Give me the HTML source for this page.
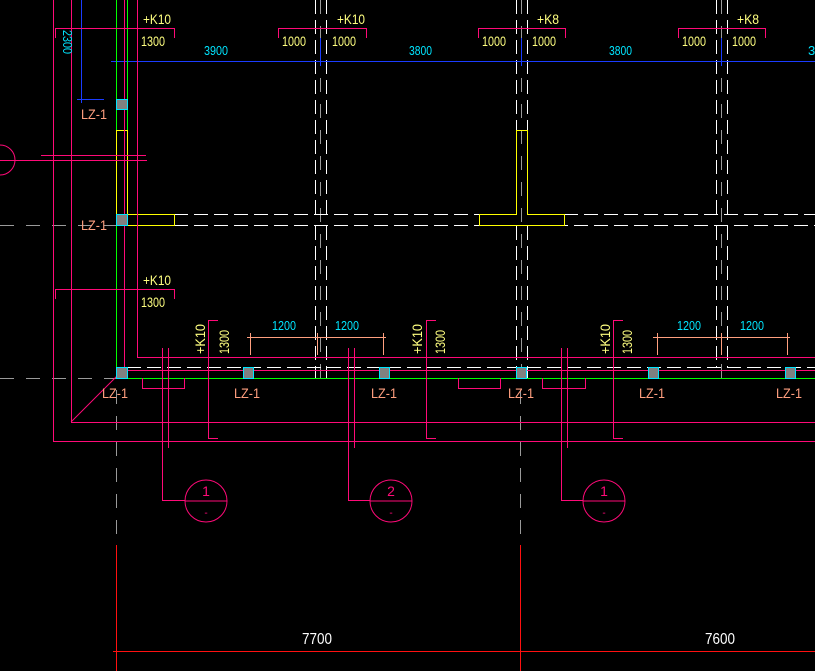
<!DOCTYPE html>
<html><head><meta charset="utf-8"><style>
html,body{margin:0;padding:0;background:#000;width:815px;height:671px;overflow:hidden}
svg{display:block}
text{font-family:"Liberation Sans",sans-serif}
</style></head><body>
<svg width="815" height="671" viewBox="0 0 815 671" xmlns="http://www.w3.org/2000/svg" shape-rendering="crispEdges">
<g fill="none" stroke-width="1">
<!-- grey centerlines -->
<g stroke="#9a9a9a" stroke-dasharray="14,12">
<line x1="0" y1="225.5" x2="116" y2="225.5"/>
<line x1="0" y1="378.5" x2="116" y2="378.5"/>
<line x1="320.5" y1="0" x2="320.5" y2="378"/>
<line x1="521.5" y1="0" x2="521.5" y2="378"/>
<line x1="721.5" y1="0" x2="721.5" y2="378"/>
<line x1="116.5" y1="390" x2="116.5" y2="545"/>
<line x1="520.5" y1="390" x2="520.5" y2="545"/>
</g>
<!-- white dashed beams -->
<g stroke="#fff" stroke-dasharray="14,6">
<line x1="315.5" y1="0" x2="315.5" y2="214"/><line x1="326.5" y1="0" x2="326.5" y2="214"/>
<line x1="315.5" y1="226" x2="315.5" y2="378"/><line x1="326.5" y1="226" x2="326.5" y2="378"/>
<line x1="516.5" y1="0" x2="516.5" y2="130"/><line x1="527.5" y1="0" x2="527.5" y2="130"/>
<line x1="516.5" y1="226" x2="516.5" y2="378"/><line x1="527.5" y1="226" x2="527.5" y2="378"/>
<line x1="716.5" y1="0" x2="716.5" y2="214"/><line x1="727.5" y1="0" x2="727.5" y2="214"/>
<line x1="716.5" y1="226" x2="716.5" y2="367"/><line x1="727.5" y1="226" x2="727.5" y2="367"/>
<line x1="174" y1="214.5" x2="479" y2="214.5"/><line x1="564" y1="214.5" x2="815" y2="214.5"/>
<line x1="174" y1="225.5" x2="815" y2="225.5"/>
<line x1="127" y1="367.5" x2="815" y2="367.5"/>
<line x1="127.5" y1="0" x2="127.5" y2="367" stroke-dasharray="none" stroke="#fff" opacity="0"/>
</g>
<line x1="127.5" y1="367" x2="127.5" y2="378" stroke="#fff"/>
<!-- blue dims -->
<g stroke="#1a3cff">
<line x1="111" y1="61.5" x2="815" y2="61.5"/>
<line x1="116.5" y1="38" x2="116.5" y2="66"/>
<line x1="320.5" y1="38" x2="320.5" y2="66"/>
<line x1="521.5" y1="38" x2="521.5" y2="66"/>
<line x1="721.5" y1="38" x2="721.5" y2="66"/>
<line x1="81.5" y1="0" x2="81.5" y2="103"/>
<line x1="77" y1="99.5" x2="104" y2="99.5"/>
</g>
<!-- green -->
<g stroke="#00ff00">
<line x1="116.5" y1="0" x2="116.5" y2="378"/>
<line x1="127.5" y1="0" x2="127.5" y2="130"/>
<line x1="116" y1="378.5" x2="815" y2="378.5"/>
</g>
<!-- yellow -->
<g stroke="#ffff00">
<rect x="116.5" y="130.5" width="11" height="95"/>
<rect x="127.5" y="214.5" width="47" height="11"/>
<path d="M516.5 214.5 V130.5 H527.5 V214.5 H564.5 V225.5 H479.5 V214.5 Z"/>
</g>
<!-- magenta -->
<g stroke="#ff0a78">
<line x1="53.5" y1="0" x2="53.5" y2="441"/>
<line x1="71.5" y1="0" x2="71.5" y2="422"/>
<line x1="124.5" y1="0" x2="124.5" y2="370"/>
<line x1="137.5" y1="0" x2="137.5" y2="357"/>
<line x1="53" y1="441.5" x2="815" y2="441.5"/>
<line x1="71" y1="422.5" x2="815" y2="422.5"/>
<line x1="137" y1="357.5" x2="815" y2="357.5"/>
<line x1="124" y1="370.5" x2="815" y2="370.5"/>
<line x1="71" y1="422" x2="125" y2="368" shape-rendering="auto"/>
<line x1="41" y1="155.5" x2="146" y2="155.5"/>
<line x1="0" y1="160.5" x2="147" y2="160.5"/>
<circle cx="0" cy="160" r="15" shape-rendering="auto"/>
<path d="M55.5 38 V28.5 H174.5 V38"/>
<path d="M278.5 38 V28.5 H366.5 V38"/>
<path d="M478.5 38 V28.5 H565.5 V38"/>
<path d="M678.5 38 V28.5 H765.5 V38"/>
<path d="M55.5 299 V289.5 H174.5 V299"/>
<path d="M218 320.5 H208.5 V438.5 H218"/>
<path d="M436 320.5 H426.5 V438.5 H436"/>
<path d="M623 320.5 H613.5 V438.5 H623"/>
<path d="M142.5 378 V388.5 H184.5 V378"/>
<path d="M458.5 378 V388.5 H500.5 V378"/>
<path d="M542.5 378 V388.5 H585.5 V378"/>
<path d="M185 500.5 H162.5 V348"/><line x1="168.5" y1="348" x2="168.5" y2="448"/>
<path d="M370 500.5 H348.5 V348"/><line x1="354.5" y1="348" x2="354.5" y2="448"/>
<path d="M583 500.5 H561.5 V348"/><line x1="567.5" y1="348" x2="567.5" y2="448"/>
<g shape-rendering="auto">
<circle cx="206" cy="501" r="21"/><line x1="185" y1="501" x2="227" y2="501"/>
<circle cx="391" cy="501" r="21"/><line x1="370" y1="501" x2="412" y2="501"/>
<circle cx="604" cy="501" r="21"/><line x1="583" y1="501" x2="625" y2="501"/>
</g>
</g>
<!-- salmon dims -->
<g stroke="#ff9f7f">
<line x1="247" y1="337.5" x2="386" y2="337.5"/>
<line x1="250.5" y1="333" x2="250.5" y2="355"/><line x1="317.5" y1="333" x2="317.5" y2="355"/><line x1="383.5" y1="333" x2="383.5" y2="355"/>
<line x1="653" y1="337.5" x2="790" y2="337.5"/>
<line x1="657.5" y1="333" x2="657.5" y2="355"/><line x1="721.5" y1="333" x2="721.5" y2="355"/><line x1="787.5" y1="333" x2="787.5" y2="355"/>
</g>
<!-- red bottom dims -->
<g stroke="#ff1010">
<line x1="116.5" y1="545" x2="116.5" y2="671"/>
<line x1="520.5" y1="545" x2="520.5" y2="671"/>
<line x1="113" y1="651.5" x2="815" y2="651.5"/>
</g>
<!-- columns -->
<g fill="#808080" stroke="#00e5ff">
<rect x="116.5" y="99.5" width="11" height="10"/>
<rect x="116.5" y="214.5" width="11" height="11"/>
<rect x="116.5" y="367.5" width="11" height="11"/>
<rect x="243.5" y="367.5" width="10" height="11"/>
<rect x="379.5" y="367.5" width="10" height="11"/>
<rect x="516.5" y="367.5" width="10" height="11"/>
<rect x="648.5" y="367.5" width="10" height="11"/>
<rect x="785.5" y="367.5" width="10" height="11"/>
</g>
</g>
<!-- text -->
<g font-size="14" fill="#ffff80">
<text x="143" y="24" textLength="28" lengthAdjust="spacingAndGlyphs">+K10</text>
<text x="141" y="46" textLength="24" lengthAdjust="spacingAndGlyphs">1300</text>
<text x="337" y="24" textLength="28" lengthAdjust="spacingAndGlyphs">+K10</text>
<text x="282" y="46" textLength="24" lengthAdjust="spacingAndGlyphs">1000</text>
<text x="332" y="46" textLength="24" lengthAdjust="spacingAndGlyphs">1000</text>
<text x="537" y="24" textLength="22" lengthAdjust="spacingAndGlyphs">+K8</text>
<text x="482" y="46" textLength="24" lengthAdjust="spacingAndGlyphs">1000</text>
<text x="532" y="46" textLength="24" lengthAdjust="spacingAndGlyphs">1000</text>
<text x="737" y="24" textLength="22" lengthAdjust="spacingAndGlyphs">+K8</text>
<text x="682" y="46" textLength="24" lengthAdjust="spacingAndGlyphs">1000</text>
<text x="732" y="46" textLength="24" lengthAdjust="spacingAndGlyphs">1000</text>
<text x="143" y="285" textLength="28" lengthAdjust="spacingAndGlyphs">+K10</text>
<text x="141" y="307" textLength="24" lengthAdjust="spacingAndGlyphs">1300</text>
<text transform="translate(205,354) rotate(-90)" textLength="30" lengthAdjust="spacingAndGlyphs">+K10</text>
<text transform="translate(229,354) rotate(-90)" textLength="24" lengthAdjust="spacingAndGlyphs">1300</text>
<text transform="translate(422,354) rotate(-90)" textLength="30" lengthAdjust="spacingAndGlyphs">+K10</text>
<text transform="translate(445,354) rotate(-90)" textLength="24" lengthAdjust="spacingAndGlyphs">1300</text>
<text transform="translate(610,354) rotate(-90)" textLength="30" lengthAdjust="spacingAndGlyphs">+K10</text>
<text transform="translate(632,354) rotate(-90)" textLength="24" lengthAdjust="spacingAndGlyphs">1300</text>
</g>
<g font-size="13" fill="#00e5ff">
<text x="204" y="55" textLength="24" lengthAdjust="spacingAndGlyphs">3900</text>
<text x="409" y="55" textLength="23" lengthAdjust="spacingAndGlyphs">3800</text>
<text x="609" y="55" textLength="23" lengthAdjust="spacingAndGlyphs">3800</text>
<text x="808" y="55">3</text>
<text transform="translate(63,30) rotate(90)" textLength="24" lengthAdjust="spacingAndGlyphs">2300</text>
<text x="272" y="330" textLength="24" lengthAdjust="spacingAndGlyphs">1200</text>
<text x="335" y="330" textLength="24" lengthAdjust="spacingAndGlyphs">1200</text>
<text x="677" y="330" textLength="24" lengthAdjust="spacingAndGlyphs">1200</text>
<text x="740" y="330" textLength="24" lengthAdjust="spacingAndGlyphs">1200</text>
</g>
<g font-size="14" fill="#ff9f7f">
<text x="81" y="119" textLength="26" lengthAdjust="spacingAndGlyphs">LZ-1</text>
<text x="81" y="230" textLength="26" lengthAdjust="spacingAndGlyphs">LZ-1</text>
<text x="102" y="398" textLength="26" lengthAdjust="spacingAndGlyphs">LZ-1</text>
<text x="234" y="398" textLength="26" lengthAdjust="spacingAndGlyphs">LZ-1</text>
<text x="371" y="398" textLength="26" lengthAdjust="spacingAndGlyphs">LZ-1</text>
<text x="508" y="398" textLength="26" lengthAdjust="spacingAndGlyphs">LZ-1</text>
<text x="639" y="398" textLength="26" lengthAdjust="spacingAndGlyphs">LZ-1</text>
<text x="776" y="398" textLength="26" lengthAdjust="spacingAndGlyphs">LZ-1</text>
</g>
<g font-size="14" fill="#ff0a78" text-anchor="middle">
<text x="206" y="496">1</text><text x="206" y="516" font-size="10">-</text>
<text x="391" y="496">2</text><text x="391" y="516" font-size="10">-</text>
<text x="604" y="496">1</text><text x="604" y="516" font-size="10">-</text>
</g>
<g font-size="16" fill="#fff">
<text x="302" y="644" textLength="30" lengthAdjust="spacingAndGlyphs">7700</text>
<text x="705" y="644" textLength="30" lengthAdjust="spacingAndGlyphs">7600</text>
</g>
</svg>
</body></html>
